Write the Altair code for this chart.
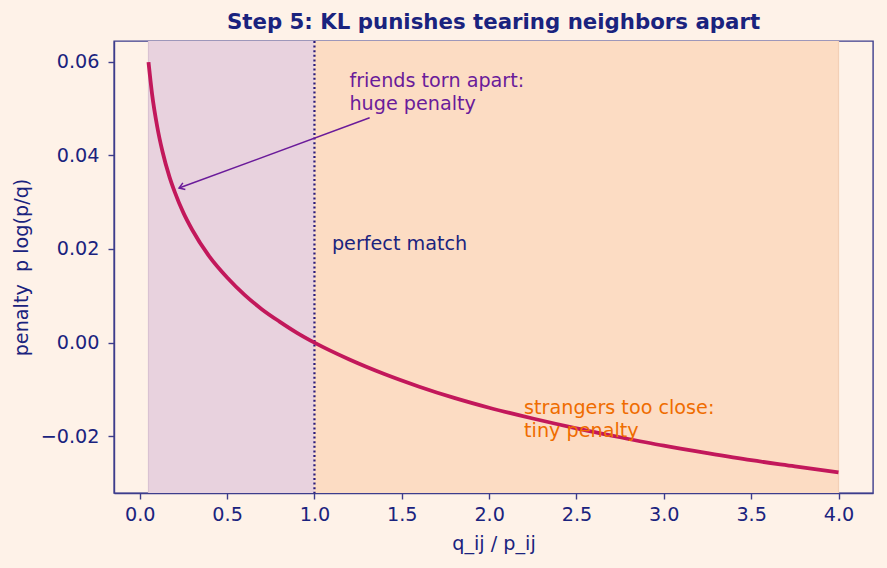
import altair as alt
import pandas as pd

# curve values
ratio = [0.05, 0.07, 0.1, 0.13, 0.17, 0.2, 0.25, 0.3, 0.4, 0.5, 0.6, 0.7, 0.8, 0.9,
         1.0, 1.2, 1.4, 1.6, 1.8, 2.0, 2.25, 2.5, 2.75, 3.0, 3.25, 3.5, 3.75, 4.0]
penalty = [0.0599, 0.0532, 0.0461, 0.0408, 0.0354, 0.0322, 0.0277, 0.0241, 0.0183,
           0.0139, 0.0102, 0.0071, 0.0045, 0.0021, 0.0, -0.0036, -0.0067, -0.0094,
           -0.0118, -0.0139, -0.0162, -0.0183, -0.0202, -0.0220, -0.0236, -0.0251,
           -0.0264, -0.0277]

span_start = [0.05, 1.0]
span_end = [1.0, 4.0]
span_name = ["friends", "strangers"]
span_color = ["#e8d2de", "#fcdcc3"]
span_edge = ["#d9c2d2", "#f3d0b6"]

x_ticks = [0.0, 0.5, 1.0, 1.5, 2.0, 2.5, 3.0, 3.5, 4.0]
y_ticks = [-0.02, 0.0, 0.02, 0.04, 0.06]

NAVY = "#1a237e"
AXIS = "#3d3d8c"
FS = 19.2
LH = 22.6
W, H = 759, 452

xs = alt.Scale(domain=[-0.1475, 4.1975], nice=False, zero=False)
ys = alt.Scale(domain=[-0.0321, 0.0644], nice=False, zero=False)

curve_df = pd.DataFrame({"r": ratio, "p": penalty})
span_df = pd.DataFrame({"a": span_start, "b": span_end, "n": span_name})

spans = alt.Chart(span_df).mark_rect(stroke=None).encode(
    x=alt.X("a:Q", scale=xs),
    x2="b:Q",
    y=alt.value(0),
    y2=alt.value(H),
    color=alt.Color("n:N", scale=alt.Scale(domain=span_name, range=span_color), legend=None),
)

edge_df = pd.DataFrame({"e": [span_start[0], span_end[1]], "c": span_edge})
edges = alt.Chart(edge_df).mark_rule(strokeWidth=1.2).encode(
    x=alt.X("e:Q", scale=xs),
    color=alt.Color("c:N", scale=None),
)

vline = alt.Chart(pd.DataFrame({"v": [1.0]})).mark_rule(
    color="#2a1a7a", strokeWidth=2.2, strokeDash=[2, 2.6]
).encode(x=alt.X("v:Q", scale=xs))

line = alt.Chart(curve_df).mark_line(
    color="#c2185b", strokeWidth=3.8, interpolate="monotone"
).encode(
    x=alt.X("r:Q", scale=xs,
            axis=alt.Axis(title="q_ij / p_ij", values=x_ticks, format=".1f")),
    y=alt.Y("p:Q", scale=ys,
            axis=alt.Axis(title="penalty\u00a0\u00a0p log(p/q)", values=y_ticks, format=".2f")),
)

# arrow annotation
arrow_df = pd.DataFrame({"x0": [1.316], "y0": [0.0480], "x1": [0.225], "y1": [0.0330]})
arrow_line = alt.Chart(arrow_df).mark_rule(color="#6a1b9a", strokeWidth=1.5).encode(
    x=alt.X("x0:Q", scale=xs), y=alt.Y("y0:Q", scale=ys), x2="x1:Q", y2="y1:Q"
)
arrow_head = alt.Chart(arrow_df).mark_point(
    shape="M -0.8 1.2 L 0 0 L 0.8 1.2", filled=False, color="#6a1b9a",
    strokeWidth=1.5, size=80, angle=249.7, opacity=1
).encode(x=alt.X("x1:Q", scale=xs), y=alt.Y("y1:Q", scale=ys))

def label(x, y, lines, color):
    return alt.Chart(pd.DataFrame({"x": [x], "y": [y]})).mark_text(
        text=lines, align="left", baseline="alphabetic", fontSize=FS,
        font="DejaVu Sans", color=color, lineHeight=LH
    ).encode(x=alt.X("x:Q", scale=xs), y=alt.Y("y:Q", scale=ys))

t1 = label(1.2, 0.0545, ["friends torn apart:", "huge penalty"], "#6a1b9a")
t2 = label(1.1, 0.0198, ["perfect match"], NAVY)
t3 = label(2.2, -0.0153, ["strangers too close:", "tiny penalty"], "#ef6c00")

chart = alt.layer(spans, edges, vline, line, arrow_line, arrow_head, t1, t2, t3).properties(
    width=W, height=H,
    title=alt.TitleParams("Step 5: KL punishes tearing neighbors apart",
                          fontSize=21.3, fontWeight="bold", color=NAVY,
                          font="DejaVu Sans", offset=7, anchor="middle"),
    background="#fef2e8",
    padding={"left": 114, "top": 41, "right": 14, "bottom": 75},
    autosize=alt.AutoSizeParams(type="none"),
).configure_view(
    stroke=AXIS, strokeWidth=1.4
).configure_axis(
    grid=False, domainColor=AXIS, domainWidth=1.4, tickColor=AXIS, tickWidth=1.4,
    tickSize=6, labelColor=NAVY, titleColor=NAVY, labelFont="DejaVu Sans",
    titleFont="DejaVu Sans", labelFontSize=FS, titleFontSize=FS,
    titleFontWeight="normal",
).configure_axisY(titlePadding=9, labelPadding=9).configure_axisX(titlePadding=10, labelPadding=6)

chart.save("out.html", embed_options={"renderer": "svg", "actions": False})
